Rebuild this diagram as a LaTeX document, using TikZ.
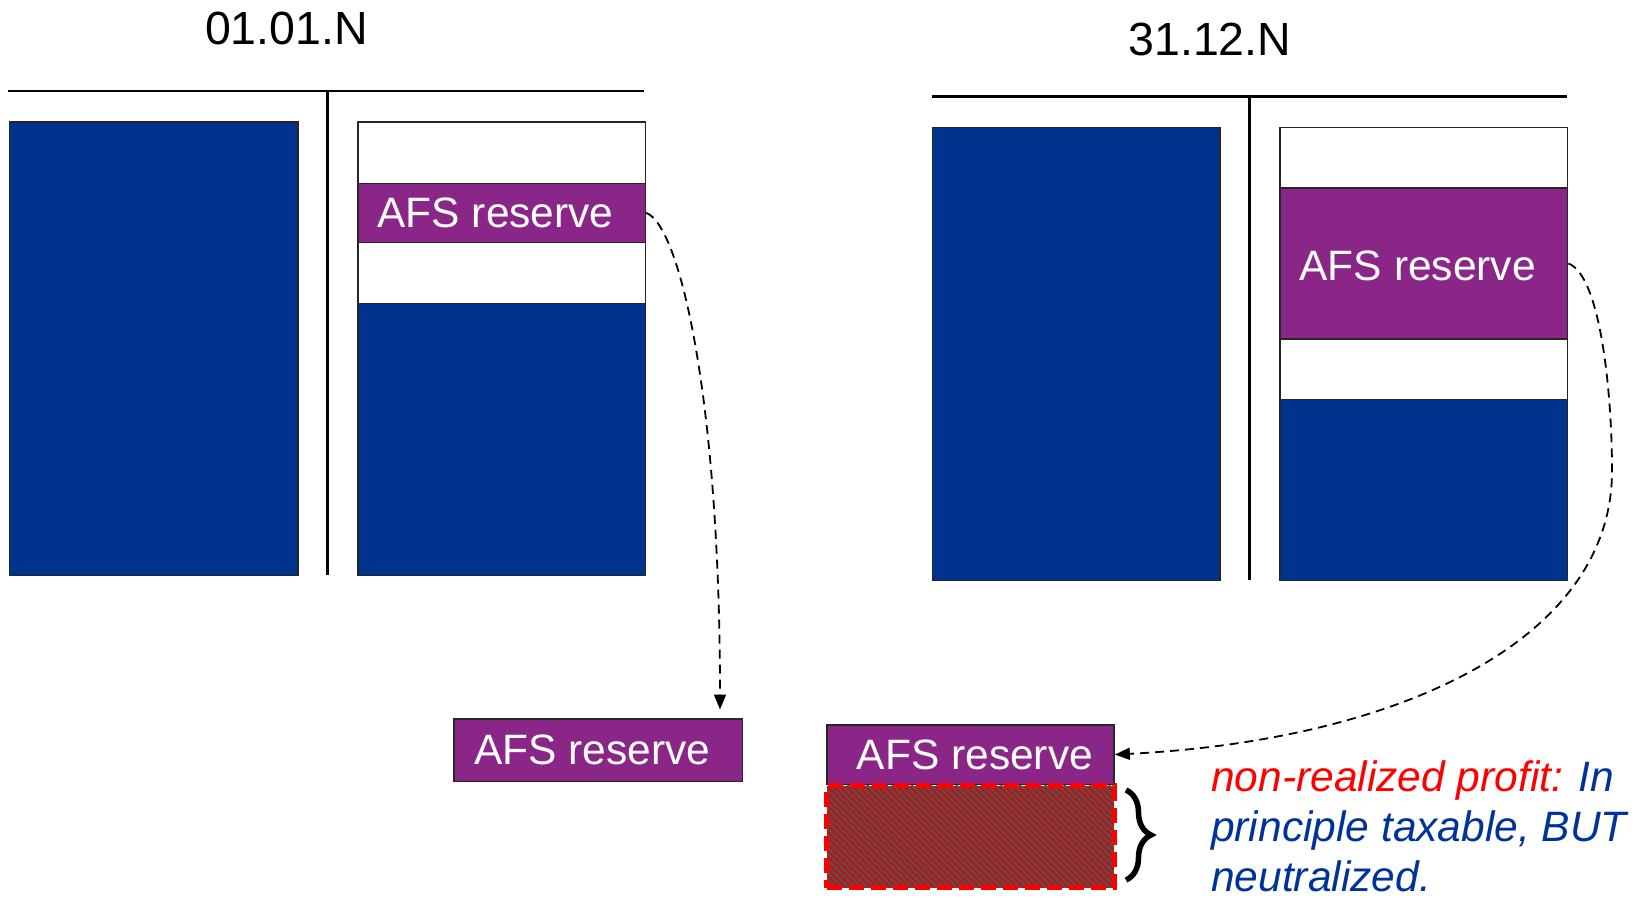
\documentclass[tikz,border=0pt]{standalone}
\usepackage{fontspec}
\setmainfont{Liberation Sans}
\usetikzlibrary{arrows.meta,decorations.pathreplacing,patterns.meta}
\definecolor{boxblue}{RGB}{0,51,141}
\definecolor{boxpurple}{RGB}{139,38,137}
\definecolor{txtblue}{RGB}{0,51,153}
\definecolor{hatchred}{RGB}{185,20,20}
\definecolor{hatchgray}{RGB}{80,85,85}
\begin{document}
\begin{tikzpicture}[x=1pt,y=-1pt,
  acct/.style={draw=black!85, line width=1.6pt, inner sep=0pt, anchor=north west},
  bluebox/.style={acct, fill=boxblue},
  whitebox/.style={acct, fill=white},
  purplebox/.style={acct, fill=boxpurple},
  afstext/.style={text=white, font=\fontsize{42.5}{48}\selectfont, inner sep=0pt},
  datetitle/.style={font=\fontsize{46.5}{52}\selectfont, inner sep=0pt},
  tline/.style={line width=2.4pt},
  conn/.style={line width=1.8pt, dash pattern=on 9pt off 6pt, -{Triangle[length=15pt,width=12pt]}},
]
\useasboundingbox (0,0) rectangle (1641,898);

% ---------- left T-account (01.01.N) ----------
\node[datetitle] (title1) at (286.5,28.4) {01.01.N};
\coordinate (LT1) at (8,91);
\coordinate (LT2) at (644,91);
\coordinate (LV1) at (327.6,91);
\coordinate (LV2) at (327.6,574.6);
\draw[tline] (LT1) -- (LT2);
\draw[tline] (LV1) -- (LV2);
\node[bluebox, minimum width=288.7pt, minimum height=453.2pt] (LA) at (8.5,121.4) {};
\node[whitebox, minimum width=287.5pt, minimum height=61.1pt] (LR1) at (357,121.4) {};
\node[purplebox, minimum width=287.5pt, minimum height=59pt] (LR2) at (357,182.5) {};
\node[whitebox, minimum width=287.5pt, minimum height=61pt] (LR3) at (357,241.5) {};
\node[bluebox, minimum width=287.5pt, minimum height=272.1pt] (LR4) at (357,302.5) {};
\node[afstext, xshift=-6pt] (LR2t) at (LR2.center) {AFS reserve};

% ---------- right T-account (31.12.N) ----------
\node[datetitle] (title2) at (1209.9,39.8) {31.12.N};
\coordinate (RT1) at (931.5,96.3);
\coordinate (RT2) at (1566.8,96.3);
\coordinate (RV1) at (1249.6,96.3);
\coordinate (RV2) at (1249.6,579.8);
\draw[tline] (RT1) -- (RT2);
\draw[tline] (RV1) -- (RV2);
\node[bluebox, minimum width=287.8pt, minimum height=453.2pt] (RA) at (931.5,126.6) {};
\node[whitebox, minimum width=287.8pt, minimum height=60.7pt] (RR1) at (1279,126.6) {};
\node[purplebox, minimum width=287.8pt, minimum height=150.8pt] (RR2) at (1279,187.3) {};
\node[whitebox, minimum width=287.8pt, minimum height=60.7pt] (RR3) at (1279,338.1) {};
\node[bluebox, minimum width=287.8pt, minimum height=181pt] (RR4) at (1279,398.8) {};
\node[afstext, xshift=-6pt, yshift=-2pt] (RR2t) at (RR2.center) {AFS reserve};

% ---------- bottom boxes ----------
\node[purplebox, minimum width=288.4pt, minimum height=62.4pt] (B1) at (453.3,718.3) {};
\node[afstext, xshift=-6pt] (B1t) at (B1.center) {AFS reserve};
\node[purplebox, minimum width=287.3pt, minimum height=59.5pt] (B2) at (826,724) {};
\node[afstext, xshift=4.5pt] (B2t) at (B2.center) {AFS reserve};
\node[acct, minimum width=287.3pt, minimum height=101.7pt, draw=red, line width=5pt,
      dash pattern=on 15pt off 7pt, preaction={fill=hatchred},
      pattern={Lines[angle=-45,distance=4.5pt,line width=1.8pt]}, pattern color=hatchgray] (H) at (826,785) {};

% brace
\coordinate (br1) at (1126,790);
\coordinate (br2) at (1126,880);
\draw[decorate, decoration={brace, amplitude=25pt}, line width=5.5pt] (br1) -- (br2);

% note (anchor = baseline of the last line)
\node[anchor=base west, inner sep=0pt, align=left,
      font=\fontsize{42.5}{50}\selectfont\itshape, text=txtblue] (note) at (1211,891)
  {\textcolor{red}{non-realized profit:} In\\principle taxable, BUT\\neutralized.};

% ---------- connectors ----------
\coordinate (tip1) at (720,709.5);
\draw[conn] (LR2.east) .. controls (680,225) and (720,400) .. (tip1);
\coordinate (mid2) at (1612,471);
\draw[conn] (RR2.east) .. controls (1600,275) and (1612,390) .. (mid2)
   .. controls (1612,640) and (1400,740) .. (B2.east);
\end{tikzpicture}
\end{document}
